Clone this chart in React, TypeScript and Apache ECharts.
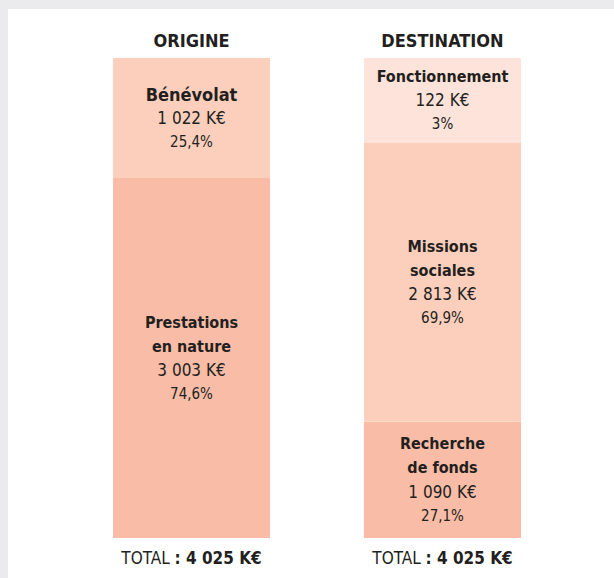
import React, { useEffect, useRef } from "react";
import * as echarts from "echarts";

// ---- data ----
const categories = ["ORIGINE", "DESTINATION"];

// listed top to bottom as in the picture
const origineLabels = ["Bénévolat", "Prestations\nen nature"];
const origineAmounts = [1022, 3003];
const originePercents = ["25,4%", "74,6%"];
// share of the bar height as drawn in the picture (%)
const origineDrawnShare = [25, 75];

const destinationLabels = ["Fonctionnement", "Missions\nsociales", "Recherche\nde fonds"];
const destinationAmounts = [122, 2813, 1090];
const destinationPercents = ["3%", "69,9%", "27,1%"];
// share of the bar height as drawn in the picture (%)
const destinationDrawnShare = [17.7, 58.1, 24.2];

// ---- styles ----
const FONT = '"Liberation Sans Narrow", "Arial Narrow", "DejaVu Sans Condensed", sans-serif';
const TEXT = "#231f20";
const origineColors = ["#fccfbc", "#f9bca6"];
const destinationColors = ["#fde3d9", "#fccfbc", "#f9bca6"];

const fmt = (n: number) => String(n).replace(/\B(?=(\d{3})+(?!\d))/g, " ");

function buildSeries(
  catIndex: number,
  labels: string[],
  amounts: number[],
  percents: string[],
  shares: number[],
  colors: string[]
) {
  const out: any[] = [];
  // stack from bottom to top
  for (let i = labels.length - 1; i >= 0; i--) {
    const data: any[] = categories.map((_, ci) => (ci === catIndex ? shares[i] : "-"));
    const titleStyle = labels[i].length > 12 ? "t2" : "t";
    const titleLines = labels[i]
      .split("\n")
      .map((l) => `{${titleStyle}|${l}}`)
      .join("\n");
    const text = `${titleLines}\n{v|${fmt(amounts[i])} K€}\n{p|${percents[i]}}`;
    out.push({
      type: "bar",
      name: labels[i],
      stack: "total",
      barWidth: 157,
      data,
      itemStyle: { color: colors[i] },
      label: {
        show: true,
        position: "inside",
        formatter: () => text,
        rich: {
          t: { fontFamily: FONT, fontWeight: "bold", fontSize: 18, lineHeight: 24, color: TEXT, align: "center" },
          t2: { fontFamily: FONT, fontWeight: "bold", fontSize: 16, lineHeight: 24, color: TEXT, align: "center" },
          v: { fontFamily: FONT, fontSize: 17, lineHeight: 24, color: TEXT, align: "center" },
          p: { fontFamily: FONT, fontSize: 15, lineHeight: 24, color: TEXT, align: "center" },
        },
      },
    });
  }
  return out;
}

const totals = [
  origineAmounts.reduce((a, b) => a + b, 0),
  destinationAmounts.reduce((a, b) => a + b, 0),
];

export default function App() {
  const ref = useRef<HTMLDivElement>(null);
  useEffect(() => {
    if (!ref.current) return;
    const chart = echarts.init(ref.current, null, { renderer: "svg" });
    chart.setOption({
      animation: false,
      backgroundColor: "#ffffff",
      graphic: [
        { type: "rect", left: 0, top: 0, shape: { width: 614, height: 9 }, style: { fill: "#ebebed" }, z: -1 },
        { type: "rect", left: 0, top: 0, shape: { width: 8, height: 578 }, style: { fill: "#ebebed" }, z: -1 },
      ],
      grid: { left: 66, right: 46, top: 58, bottom: 40 },
      xAxis: [
        {
          type: "category",
          position: "top",
          data: categories,
          axisLine: { show: false },
          axisTick: { show: false },
          axisLabel: {
            margin: 9,
            fontFamily: FONT,
            fontWeight: "bold",
            fontSize: 18,
            color: TEXT,
          },
        },
        {
          type: "category",
          position: "bottom",
          data: categories,
          axisLine: { show: false },
          axisTick: { show: false },
          axisLabel: {
            margin: 11,
            formatter: (_v: string, idx: number) => `{a|TOTAL }{b|: ${fmt(totals[idx])} K€}`,
            rich: {
              a: { fontFamily: FONT, fontSize: 17, color: TEXT },
              b: { fontFamily: FONT, fontSize: 17, fontWeight: "bold", color: TEXT },
            },
          },
        },
      ],
      yAxis: { type: "value", min: 0, max: 100, show: false },
      series: [
        ...buildSeries(0, origineLabels, origineAmounts, originePercents, origineDrawnShare, origineColors),
        ...buildSeries(1, destinationLabels, destinationAmounts, destinationPercents, destinationDrawnShare, destinationColors),
      ],
    });
    return () => chart.dispose();
  }, []);
  return (
    <div
      ref={ref}
      style={{ position: "fixed", left: 0, top: 0, width: 614, height: 578 }}
    />
  );
}
